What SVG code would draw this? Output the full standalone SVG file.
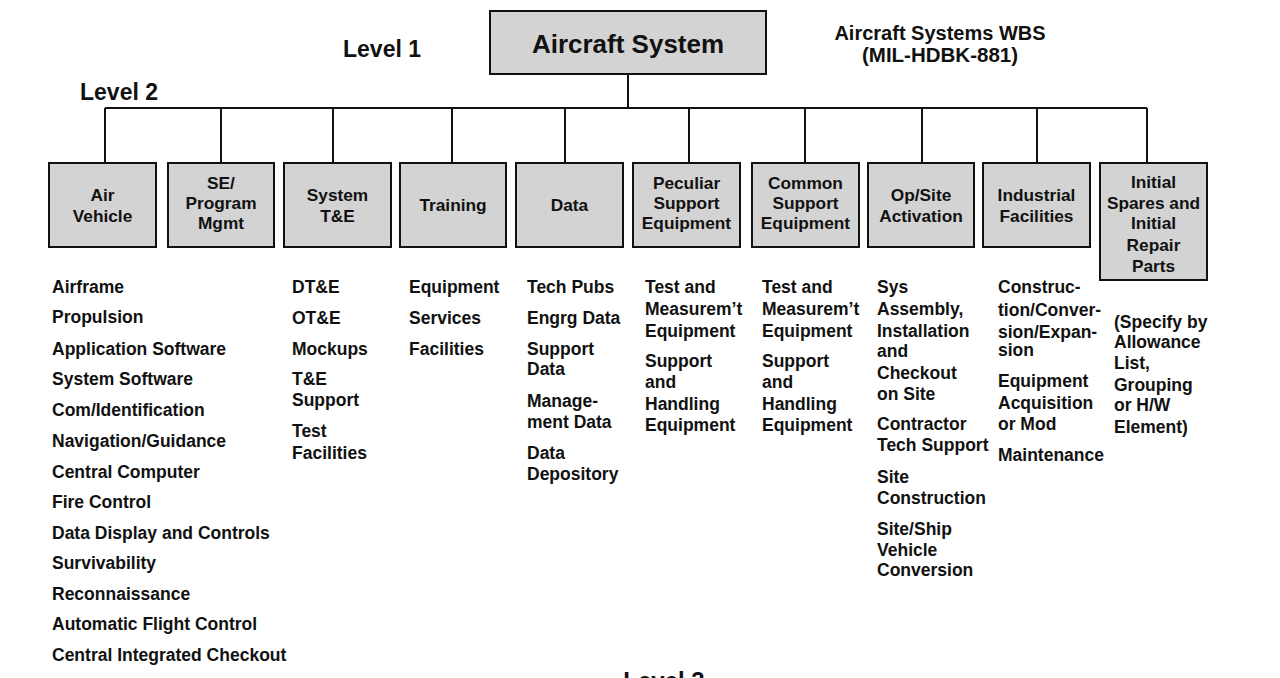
<svg xmlns="http://www.w3.org/2000/svg" width="1280" height="678" viewBox="0 0 1280 678">
<style>
text{font-family:"Liberation Sans",Arial,sans-serif;fill:#111;font-weight:bold}
.box{fill:#d3d3d3;stroke:#111;stroke-width:2}
.bt{font-size:17.3px;text-anchor:middle}
.lt{font-size:17.5px}
.hd{font-size:23px}
.ttl{font-size:20px;text-anchor:middle}
.con{stroke:#111;stroke-width:2;fill:none}
</style>
<rect width="1280" height="678" fill="#fff"/>
<text class="hd" x="343" y="57">Level 1</text>
<text class="hd" x="80" y="100">Level 2</text>
<text class="hd" x="664" y="689" text-anchor="middle" style="font-size:24px">Level 3</text>
<text class="ttl" x="940" y="40">Aircraft Systems WBS</text>
<text class="ttl" x="940" y="62" style="font-size:20.5px">(MIL-HDBK-881)</text>
<g id="connectors">
<path class="con" d="M628 74V108M105 108H1147M105 108V163M221 108V163M333 108V163M452 108V163M565 108V163M689 108V163M805 108V163M922 108V163M1037 108V163M1147 108V163"/>
</g>
<g id="n0"><rect class="box" x="490" y="11" width="276" height="63"/><text x="628" y="53" text-anchor="middle" style="font-size:26px">Aircraft System</text></g>
<g id="n1"><rect class="box" x="49" y="163" width="107" height="84"/><text class="bt" x="102.5"><tspan x="102.5" y="201">Air</tspan><tspan x="102.5" y="222">Vehicle</tspan></text>
<g class="lt"><text class="lt" x="52" y="293">Airframe</text><text class="lt" x="52" y="323">Propulsion</text><text class="lt" x="52" y="355">Application Software</text><text class="lt" x="52" y="385">System Software</text><text class="lt" x="52" y="416">Com/Identification</text><text class="lt" x="52" y="447">Navigation/Guidance</text><text class="lt" x="52" y="478">Central Computer</text><text class="lt" x="52" y="508">Fire Control</text><text class="lt" x="52" y="539">Data Display and Controls</text><text class="lt" x="52" y="569">Survivability</text><text class="lt" x="52" y="600">Reconnaissance</text><text class="lt" x="52" y="630">Automatic Flight Control</text><text class="lt" x="52" y="661">Central Integrated Checkout</text></g></g>
<g id="n2"><rect class="box" x="168" y="163" width="106" height="84"/><text class="bt"><tspan x="221" y="189">SE/</tspan><tspan x="221" y="209">Program</tspan><tspan x="221" y="229">Mgmt</tspan></text></g>
<g id="n3"><rect class="box" x="284" y="163" width="107" height="84"/><text class="bt"><tspan x="337.5" y="201">System</tspan><tspan x="337.5" y="222">T&amp;E</tspan></text>
<text class="lt" x="292" y="293">DT&amp;E</text><text class="lt" x="292" y="324">OT&amp;E</text><text class="lt" x="292" y="355">Mockups</text><text class="lt"><tspan x="292" y="385">T&amp;E</tspan><tspan x="292" y="406">Support</tspan></text><text class="lt"><tspan x="292" y="437">Test</tspan><tspan x="292" y="459">Facilities</tspan></text></g>
<g id="n4"><rect class="box" x="400" y="163" width="106" height="84"/><text class="bt" x="453" y="211">Training</text>
<text class="lt" x="409" y="293">Equipment</text><text class="lt" x="409" y="324">Services</text><text class="lt" x="409" y="355">Facilities</text></g>
<g id="n5"><rect class="box" x="516" y="163" width="107" height="84"/><text class="bt" x="569.5" y="211">Data</text>
<text class="lt" x="527" y="293">Tech Pubs</text><text class="lt" x="527" y="324">Engrg Data</text><text class="lt"><tspan x="527" y="355">Support</tspan><tspan x="527" y="375">Data</tspan></text><text class="lt"><tspan x="527" y="407">Manage-</tspan><tspan x="527" y="428">ment Data</tspan></text><text class="lt"><tspan x="527" y="459">Data</tspan><tspan x="527" y="480">Depository</tspan></text></g>
<g id="n6"><rect class="box" x="633" y="163" width="107" height="84"/><text class="bt"><tspan x="686.5" y="189">Peculiar</tspan><tspan x="686.5" y="209">Support</tspan><tspan x="686.5" y="229">Equipment</tspan></text>
<text class="lt"><tspan x="645" y="293">Test and</tspan><tspan x="645" y="315">Measurem’t</tspan><tspan x="645" y="337">Equipment</tspan></text><text class="lt"><tspan x="645" y="367">Support</tspan><tspan x="645" y="388">and</tspan><tspan x="645" y="410">Handling</tspan><tspan x="645" y="431">Equipment</tspan></text></g>
<g id="n7"><rect class="box" x="752" y="163" width="107" height="84"/><text class="bt"><tspan x="805.5" y="189">Common</tspan><tspan x="805.5" y="209">Support</tspan><tspan x="805.5" y="229">Equipment</tspan></text>
<text class="lt"><tspan x="762" y="293">Test and</tspan><tspan x="762" y="315">Measurem’t</tspan><tspan x="762" y="337">Equipment</tspan></text><text class="lt"><tspan x="762" y="367">Support</tspan><tspan x="762" y="388">and</tspan><tspan x="762" y="410">Handling</tspan><tspan x="762" y="431">Equipment</tspan></text></g>
<g id="n8"><rect class="box" x="868" y="163" width="106" height="84"/><text class="bt"><tspan x="921" y="201">Op/Site</tspan><tspan x="921" y="222">Activation</tspan></text>
<text class="lt"><tspan x="877" y="293">Sys</tspan><tspan x="877" y="315">Assembly,</tspan><tspan x="877" y="337">Installation</tspan><tspan x="877" y="357">and</tspan><tspan x="877" y="379">Checkout</tspan><tspan x="877" y="400">on Site</tspan></text><text class="lt"><tspan x="877" y="430">Contractor</tspan><tspan x="877" y="451">Tech Support</tspan></text><text class="lt"><tspan x="877" y="483">Site</tspan><tspan x="877" y="504">Construction</tspan></text><text class="lt"><tspan x="877" y="535">Site/Ship</tspan><tspan x="877" y="556">Vehicle</tspan><tspan x="877" y="576">Conversion</tspan></text></g>
<g id="n9"><rect class="box" x="983" y="163" width="107" height="84"/><text class="bt"><tspan x="1036.5" y="201">Industrial</tspan><tspan x="1036.5" y="222">Facilities</tspan></text>
<text class="lt"><tspan x="998" y="293">Construc-</tspan><tspan x="998" y="316">tion/Conver-</tspan><tspan x="998" y="338">sion/Expan-</tspan><tspan x="998" y="356">sion</tspan></text><text class="lt"><tspan x="998" y="387">Equipment</tspan><tspan x="998" y="409">Acquisition</tspan><tspan x="998" y="430">or Mod</tspan></text><text class="lt" x="998" y="461">Maintenance</text></g>
<g id="n10"><rect class="box" x="1100" y="163" width="107" height="117"/><text class="bt"><tspan x="1153.5" y="188">Initial</tspan><tspan x="1153.5" y="209">Spares and</tspan><tspan x="1153.5" y="229">Initial</tspan><tspan x="1153.5" y="251">Repair</tspan><tspan x="1153.5" y="272">Parts</tspan></text>
<text class="lt"><tspan x="1114" y="328">(Specify by</tspan><tspan x="1114" y="348">Allowance</tspan><tspan x="1114" y="369">List,</tspan><tspan x="1114" y="391">Grouping</tspan><tspan x="1114" y="411">or H/W</tspan><tspan x="1114" y="433">Element)</tspan></text></g>
</svg>
